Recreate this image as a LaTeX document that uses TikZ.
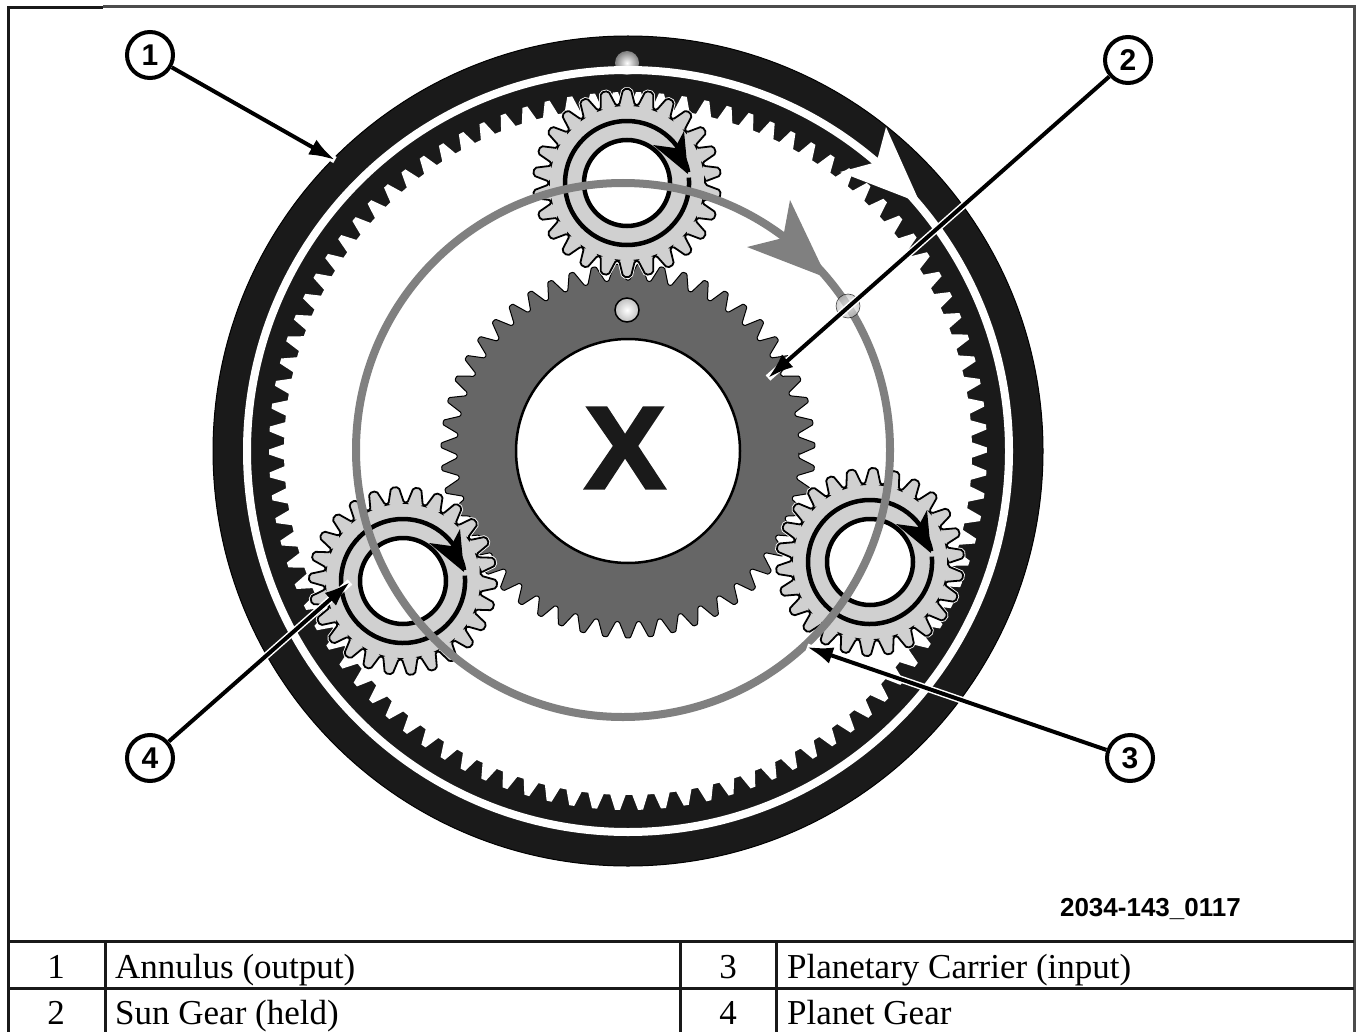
\documentclass[tikz,border=0pt]{standalone}
\usepackage{amsmath}
\usepackage{fontspec}
\setmainfont{Liberation Serif}
\newfontfamily\labelfont{Liberation Sans}
\newfontfamily\markfont[BoldFeatures={FakeBold=2.2}]{Liberation Sans}
\usepackage{tikz}
\usetikzlibrary{arrows.meta}
\definecolor{ringblack}{HTML}{1A1A1A}
\definecolor{sungray}{HTML}{666666}
\definecolor{planetgray}{HTML}{D0D0D0}
\definecolor{carriergray}{HTML}{808080}

% one closed gear outline: teeth, root radius, tip radius, half tip, half base (of a pitch)
\newcommand{\gearoutline}[5]{
    ({(0.5-#5)/#1*360}:#2pt)
    \foreach \k in {1,...,#1} {
        -- ({(\k-0.5-#4)/#1*360}:#3pt) -- ({(\k-0.5+#4)/#1*360}:#3pt)
        -- ({(\k-0.5+#5)/#1*360}:#2pt) -- ({(\k+0.5-#5)/#1*360}:#2pt)
    } -- cycle
}
\tikzset{
    planet/.style={fill=planetgray, draw=black, line width=1.8pt, rounded corners=2pt},
    hubline/.style={draw=black, line width=4.5pt},
    callout/.style={circle, draw=black, fill=white, line width=4pt, minimum size=46pt, inner sep=0pt,
        font=\labelfont\bfseries\fontsize{30}{36}\selectfont},
    leader/.style={-{Latex[length=26pt, width=17pt]}, draw=black, line width=4pt,
        preaction={draw=white, line width=7pt, -}},
    tablerule/.style={draw=black!90, line width=3pt},
    celltext/.style={font=\fontsize{35}{40}\selectfont},
}

\begin{document}
\begin{tikzpicture}[x=1pt, y=-1pt]
    \useasboundingbox (0,0) rectangle (1356,1032);
    \fill[white] (0,0) rectangle (1356,1032);
    % annulus: outer band and toothed band
    \fill[ringblack, draw=black, line width=1pt] (628,451) circle[radius=415];
    \fill[white, shift={(628,451)}, rotate=2] \gearoutline{98}{344}{359}{0.11}{0.35};
    % dot on the annulus, then the gap over it
    \shade[inner color=white, outer color=gray] (627,63) circle[radius=12];
    \draw[white, line width=8pt] (628,451) circle[radius=381];
    % white arrow knocked out of the annulus
    \fill[white] (886,127) -- (878,157) -- (873,163) -- (840,172) -- (920,203) -- cycle;
    % sun gear
    \filldraw[sungray, draw=black, line width=1pt, rounded corners=1pt, shift={(628,451)}, rotate=-1.76]
        \gearoutline{51}{171}{187}{0.10}{0.42};
    \draw[fill=white, line width=2.5pt] (628,451) circle[radius=112];
    \shade[inner color=white, outer color=lightgray, draw=black, line width=1.5pt] (627,310) circle[radius=12];
    \node[text=ringblack, font=\markfont\bfseries\fontsize{117}{117}\selectfont, inner sep=0pt, xscale=1.04, transform shape] (xmark) at (625,448) {X};
    % planets, each with its rings and black arrowhead
    \foreach \cx/\cy/\tw in {627/183/0, 403/581/5, 870/562/-2} {
        \begin{scope}[shift={(\cx,\cy)}]
            \filldraw[draw=white, line width=3.5pt, rounded corners=2pt, rotate=\tw] \gearoutline{26}{78}{94}{0.17}{0.42};
            \filldraw[planet, rotate=\tw] \gearoutline{26}{78}{94}{0.17}{0.42};
            \draw[hubline, fill=white] (0,0) circle[radius=43];
            \draw[hubline] (61.8,-5.4) arc[start angle=-5, end angle=350, radius=62];
            \fill[black] (61,-9) -- (57,-52) -- (48,-35) -- (26,-38) -- cycle;
        \end{scope}
    }
    % carrier and its arrow
    \draw[carriergray, line width=8pt] (623,450) circle[radius=267];
    \fill[carriergray] (827,278) -- (790,200) -- (783,238) -- (747,247) -- cycle;
    \shade[inner color=white, outer color=lightgray, draw=black, line width=0.6pt, opacity=0.7] (848,306) circle[radius=12];
    % callouts
    \node[callout] (n1) at (150,55) {1};
    \node[callout] (n2) at (1128,60) {2};
    \node[callout] (n3) at (1130,758) {3};
    \node[callout] (n4) at (150,758) {4};
    \coordinate (t1) at (335,160);
    \coordinate (t2) at (768,378);
    \coordinate (t3) at (807,647);
    \coordinate (t4) at (350,582);
    \draw[leader] (n1) -- (t1);
    \draw[leader] (n2) -- (t2);
    \draw[leader] (n3) -- (t3);
    \draw[leader] (n4) -- (t4);
    \node[font=\labelfont\bfseries\fontsize{26}{30}\selectfont, anchor=base east, inner sep=0pt] (figno) at (1241,916) {2034-143\_0117};
    % frame and table
    \draw[tablerule] (8,1033) -- (8,8) -- (103,8);
    \draw[tablerule, draw=black!70] (103,6.5) -- (1354.5,6.5) -- (1354.5,1033);
    \draw[tablerule] (8,941.5) -- (1354,941.5);
    \draw[tablerule] (8,988.5) -- (1354,988.5);
    \draw[tablerule] (105,941) -- (105,1033);
    \draw[tablerule] (680,941) -- (680,1033);
    \draw[tablerule] (776,941) -- (776,1033);
    \node[celltext, anchor=base] (r1) at (56,978) {1};
    \node[celltext, anchor=base] (r2) at (56,1024) {2};
    \node[celltext, anchor=base] (r3) at (728,978) {3};
    \node[celltext, anchor=base] (r4) at (728,1024) {4};
    \node[celltext, anchor=base west, inner sep=0pt] (d1) at (115,978) {Annulus (output)};
    \node[celltext, anchor=base west, inner sep=0pt] (d2) at (115,1024) {Sun Gear (held)};
    \node[celltext, anchor=base west, inner sep=0pt] (d3) at (787,978) {Planetary Carrier (input)};
    \node[celltext, anchor=base west, inner sep=0pt] (d4) at (787,1024) {Planet Gear};
\end{tikzpicture}
\end{document}
